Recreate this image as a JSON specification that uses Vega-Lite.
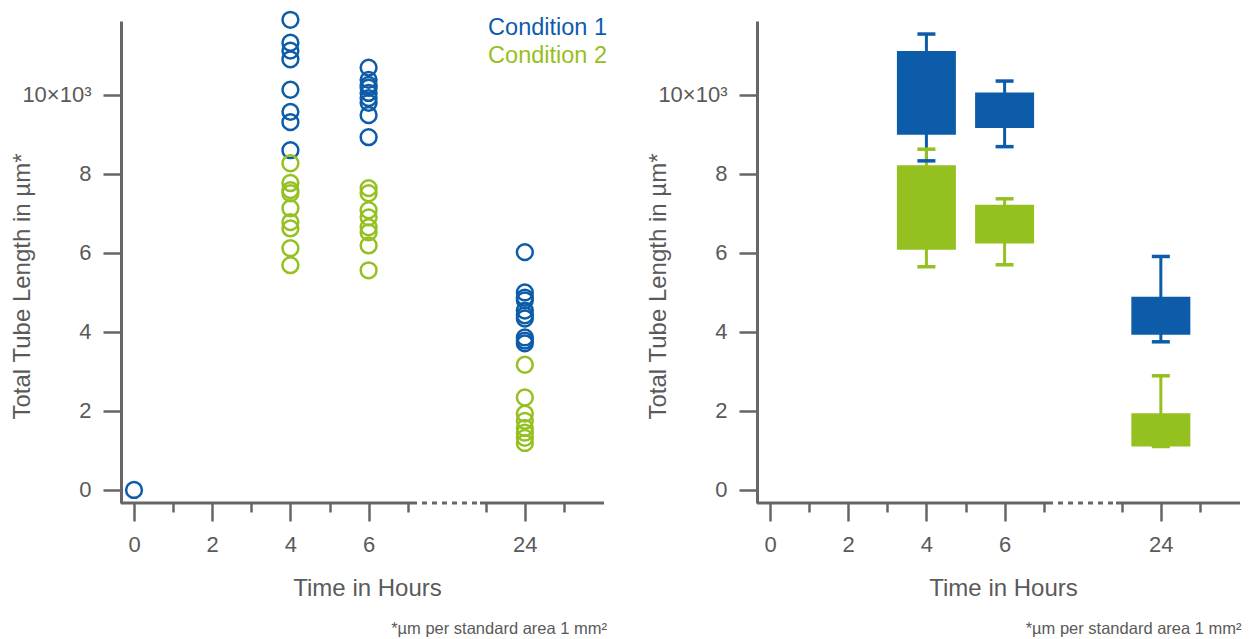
{
  "$schema": "https://vega.github.io/schema/vega-lite/v6.json",
  "background": "white",
  "padding": {"left": 10, "top": 6, "right": 5, "bottom": 5},
  "bounds": "flush",
  "spacing": 153,
  "config": {
    "view": {"stroke": null},
    "font": "Liberation Sans",
    "axis": {
      "grid": false,
      "domainColor": "#666666",
      "domainWidth": 3,
      "tickColor": "#666666",
      "tickWidth": 2.5,
      "labelColor": "#5a5a5a",
      "labelFontSize": 22,
      "titleColor": "#5a5a5a",
      "titleFontSize": 24,
      "titleFontWeight": "normal",
      "labelFlush": false,
      "labelOverlap": false
    },
    "axisX": {
      "domain": false,
      "tickSize": {"condition": {"test": "indexof([0,2,4,6,24], datum.value) >= 0", "value": 18}, "value": 9},
      "labelPadding": 13,
      "titleX": 246,
      "titleY": 85,
      "titleBaseline": "middle",
      "titleAlign": "center"
    },
    "axisY": {
      "tickSize": 18,
      "labelPadding": 12,
      "titleX": -99,
      "titleY": 265,
      "titleAngle": 270,
      "titleBaseline": "middle",
      "titleAlign": "center"
    }
  },
  "datasets": {
    "points": [
      {"hour": 0, "condition": "Condition 1", "length": 0},
      {"hour": 4, "condition": "Condition 1", "length": 11900},
      {"hour": 4, "condition": "Condition 1", "length": 11320},
      {"hour": 4, "condition": "Condition 1", "length": 11120},
      {"hour": 4, "condition": "Condition 1", "length": 10900},
      {"hour": 4, "condition": "Condition 1", "length": 10130},
      {"hour": 4, "condition": "Condition 1", "length": 9570},
      {"hour": 4, "condition": "Condition 1", "length": 9310},
      {"hour": 4, "condition": "Condition 1", "length": 8600},
      {"hour": 4, "condition": "Condition 2", "length": 8270},
      {"hour": 4, "condition": "Condition 2", "length": 7770},
      {"hour": 4, "condition": "Condition 2", "length": 7590},
      {"hour": 4, "condition": "Condition 2", "length": 7510},
      {"hour": 4, "condition": "Condition 2", "length": 7130},
      {"hour": 4, "condition": "Condition 2", "length": 6780},
      {"hour": 4, "condition": "Condition 2", "length": 6620},
      {"hour": 4, "condition": "Condition 2", "length": 6120},
      {"hour": 4, "condition": "Condition 2", "length": 5690},
      {"hour": 6, "condition": "Condition 1", "length": 10690},
      {"hour": 6, "condition": "Condition 1", "length": 10380},
      {"hour": 6, "condition": "Condition 1", "length": 10250},
      {"hour": 6, "condition": "Condition 1", "length": 10180},
      {"hour": 6, "condition": "Condition 1", "length": 10050},
      {"hour": 6, "condition": "Condition 1", "length": 9920},
      {"hour": 6, "condition": "Condition 1", "length": 9800},
      {"hour": 6, "condition": "Condition 1", "length": 9490},
      {"hour": 6, "condition": "Condition 1", "length": 8930},
      {"hour": 6, "condition": "Condition 2", "length": 7640},
      {"hour": 6, "condition": "Condition 2", "length": 7510},
      {"hour": 6, "condition": "Condition 2", "length": 7080},
      {"hour": 6, "condition": "Condition 2", "length": 6900},
      {"hour": 6, "condition": "Condition 2", "length": 6650},
      {"hour": 6, "condition": "Condition 2", "length": 6520},
      {"hour": 6, "condition": "Condition 2", "length": 6190},
      {"hour": 6, "condition": "Condition 2", "length": 5560},
      {"hour": 24, "condition": "Condition 1", "length": 6020},
      {"hour": 24, "condition": "Condition 1", "length": 5000},
      {"hour": 24, "condition": "Condition 1", "length": 4870},
      {"hour": 24, "condition": "Condition 1", "length": 4800},
      {"hour": 24, "condition": "Condition 1", "length": 4540},
      {"hour": 24, "condition": "Condition 1", "length": 4420},
      {"hour": 24, "condition": "Condition 1", "length": 4340},
      {"hour": 24, "condition": "Condition 1", "length": 3860},
      {"hour": 24, "condition": "Condition 1", "length": 3780},
      {"hour": 24, "condition": "Condition 1", "length": 3710},
      {"hour": 24, "condition": "Condition 2", "length": 3170},
      {"hour": 24, "condition": "Condition 2", "length": 2340},
      {"hour": 24, "condition": "Condition 2", "length": 1930},
      {"hour": 24, "condition": "Condition 2", "length": 1750},
      {"hour": 24, "condition": "Condition 2", "length": 1570},
      {"hour": 24, "condition": "Condition 2", "length": 1450},
      {"hour": 24, "condition": "Condition 2", "length": 1320},
      {"hour": 24, "condition": "Condition 2", "length": 1190}
    ],
    "boxes": [
      {"hour": 4, "condition": "Condition 1", "q1": 8990, "q3": 11110, "low": 8330, "high": 11540},
      {"hour": 6, "condition": "Condition 1", "q1": 9160, "q3": 10060, "low": 8690, "high": 10350},
      {"hour": 24, "condition": "Condition 1", "q1": 3930, "q3": 4890, "low": 3750, "high": 5910},
      {"hour": 4, "condition": "Condition 2", "q1": 6080, "q3": 8220, "low": 5650, "high": 8625},
      {"hour": 6, "condition": "Condition 2", "q1": 6240, "q3": 7220, "low": 5700, "high": 7370},
      {"hour": 24, "condition": "Condition 2", "q1": 1100, "q3": 1940, "low": 1100, "high": 2890}
    ]
  },
  "hconcat": [
    {
      "width": 483,
      "height": 482,
      "title": {"text": "*µm per standard area 1 mm²", "orient": "bottom", "anchor": "end", "fontSize": 16.5, "fontWeight": "normal", "color": "#5a5a5a", "offset": 21},
      "layer": [
        {
          "data": {"name": "points"},
          "mark": {"type": "point", "shape": "circle", "filled": false, "size": 250, "strokeWidth": 2.5, "opacity": 1},
          "encoding": {
            "x": {"field": "hour", "type": "quantitative", "scale": {"type": "linear", "domain": [-0.333, 7.11, 22.85, 26.03], "range": [0, 291, 359, 483], "nice": false, "zero": false, "padding": 0}, "axis": {"title": "Time in Hours", "values": [0, 1, 2, 3, 4, 5, 6, 7, 23, 24, 25], "labelExpr": "indexof([0,2,4,6,24], datum.value) >= 0 ? format(datum.value, 'd') : ''"}},
            "y": {"field": "length", "type": "quantitative", "scale": {"domain": [-330, 11870], "nice": false, "zero": false}, "axis": {"title": "Total Tube Length in µm*", "values": [0, 2000, 4000, 6000, 8000, 10000], "labelExpr": "datum.value == 10000 ? '10×10³' : format(datum.value / 1000, 'd')"}},
            "color": {"field": "condition", "type": "nominal", "scale": {"domain": ["Condition 1", "Condition 2"], "range": ["#0d5ca9", "#95c120"]}, "legend": null}
          }
        },
        {
          "data": {"values": [{"seg": "a"}]},
          "mark": {"type": "rule", "color": "#666666", "strokeWidth": 3},
          "encoding": {
            "x": {"datum": -0.333, "type": "quantitative", "title": "Time in Hours"},
            "x2": {"datum": 7.11},
            "y": {"datum": -330, "type": "quantitative", "title": "Total Tube Length in µm*"}
          }
        },
        {
          "data": {"values": [{"seg": "b"}]},
          "mark": {"type": "rule", "color": "#666666", "strokeWidth": 3, "strokeDash": [5, 5]},
          "encoding": {
            "x": {"datum": 7.11, "type": "quantitative", "title": "Time in Hours"},
            "x2": {"datum": 22.85},
            "y": {"datum": -330, "type": "quantitative", "title": "Total Tube Length in µm*"}
          }
        },
        {
          "data": {"values": [{"seg": "c"}]},
          "mark": {"type": "rule", "color": "#666666", "strokeWidth": 3},
          "encoding": {
            "x": {"datum": 22.85, "type": "quantitative", "title": "Time in Hours"},
            "x2": {"datum": 26.03},
            "y": {"datum": -330, "type": "quantitative", "title": "Total Tube Length in µm*"}
          }
        },
        {
          "data": {"values": [{"label": "Condition 1"}]},
          "mark": {"type": "text", "align": "right", "baseline": "middle", "fontSize": 23.5, "color": "#0d5ca9", "dx": 3},
          "encoding": {
            "x": {"datum": 26.03, "type": "quantitative", "title": "Time in Hours"},
            "y": {"datum": 11700, "type": "quantitative", "title": "Total Tube Length in µm*"},
            "text": {"field": "label"}
          }
        },
        {
          "data": {"values": [{"label": "Condition 2"}]},
          "mark": {"type": "text", "align": "right", "baseline": "middle", "fontSize": 23.5, "color": "#95c120", "dx": 3},
          "encoding": {
            "x": {"datum": 26.03, "type": "quantitative", "title": "Time in Hours"},
            "y": {"datum": 10990, "type": "quantitative", "title": "Total Tube Length in µm*"},
            "text": {"field": "label"}
          }
        }
      ]
    },
    {
      "width": 483,
      "height": 482,
      "title": {"text": "*µm per standard area 1 mm²", "orient": "bottom", "anchor": "end", "fontSize": 16.5, "fontWeight": "normal", "color": "#5a5a5a", "offset": 21},
      "data": {"name": "boxes"},
      "layer": [
        {
          "mark": {"type": "rule", "strokeWidth": 3},
          "encoding": {
            "x": {"field": "hour", "type": "quantitative", "scale": {"type": "linear", "domain": [-0.333, 7.11, 22.85, 26.03], "range": [0, 291, 359, 483], "nice": false, "zero": false, "padding": 0}, "axis": {"title": "Time in Hours", "values": [0, 1, 2, 3, 4, 5, 6, 7, 23, 24, 25], "labelExpr": "indexof([0,2,4,6,24], datum.value) >= 0 ? format(datum.value, 'd') : ''"}},
            "y": {"field": "low", "type": "quantitative", "scale": {"domain": [-330, 11870], "nice": false, "zero": false}, "axis": {"title": "Total Tube Length in µm*", "values": [0, 2000, 4000, 6000, 8000, 10000], "labelExpr": "datum.value == 10000 ? '10×10³' : format(datum.value / 1000, 'd')"}},
            "y2": {"field": "high"},
            "color": {"field": "condition", "type": "nominal", "scale": {"domain": ["Condition 1", "Condition 2"], "range": ["#0958a8", "#95c120"]}, "legend": null}
          }
        },
        {
          "mark": {"type": "tick", "orient": "horizontal", "size": 18, "thickness": 3.5, "opacity": 1},
          "encoding": {
            "x": {"field": "hour", "type": "quantitative", "title": "Time in Hours"},
            "y": {"field": "low", "type": "quantitative", "title": "Total Tube Length in µm*"},
            "color": {"field": "condition", "type": "nominal", "legend": null}
          }
        },
        {
          "mark": {"type": "tick", "orient": "horizontal", "size": 18, "thickness": 3.5, "opacity": 1},
          "encoding": {
            "x": {"field": "hour", "type": "quantitative", "title": "Time in Hours"},
            "y": {"field": "high", "type": "quantitative", "title": "Total Tube Length in µm*"},
            "color": {"field": "condition", "type": "nominal", "legend": null}
          }
        },
        {
          "mark": {"type": "bar", "orient": "vertical", "width": 59, "opacity": 1},
          "encoding": {
            "x": {"field": "hour", "type": "quantitative", "title": "Time in Hours"},
            "y": {"field": "q1", "type": "quantitative", "title": "Total Tube Length in µm*"},
            "y2": {"field": "q3"},
            "color": {"field": "condition", "type": "nominal", "legend": null}
          }
        },
        {
          "data": {"values": [{"seg": "a"}]},
          "mark": {"type": "rule", "color": "#666666", "strokeWidth": 3},
          "encoding": {
            "x": {"datum": -0.333, "type": "quantitative", "title": "Time in Hours"},
            "x2": {"datum": 7.11},
            "y": {"datum": -330, "type": "quantitative", "title": "Total Tube Length in µm*"}
          }
        },
        {
          "data": {"values": [{"seg": "b"}]},
          "mark": {"type": "rule", "color": "#666666", "strokeWidth": 3, "strokeDash": [5, 5]},
          "encoding": {
            "x": {"datum": 7.11, "type": "quantitative", "title": "Time in Hours"},
            "x2": {"datum": 22.85},
            "y": {"datum": -330, "type": "quantitative", "title": "Total Tube Length in µm*"}
          }
        },
        {
          "data": {"values": [{"seg": "c"}]},
          "mark": {"type": "rule", "color": "#666666", "strokeWidth": 3},
          "encoding": {
            "x": {"datum": 22.85, "type": "quantitative", "title": "Time in Hours"},
            "x2": {"datum": 26.03},
            "y": {"datum": -330, "type": "quantitative", "title": "Total Tube Length in µm*"}
          }
        }
      ]
    }
  ]
}
